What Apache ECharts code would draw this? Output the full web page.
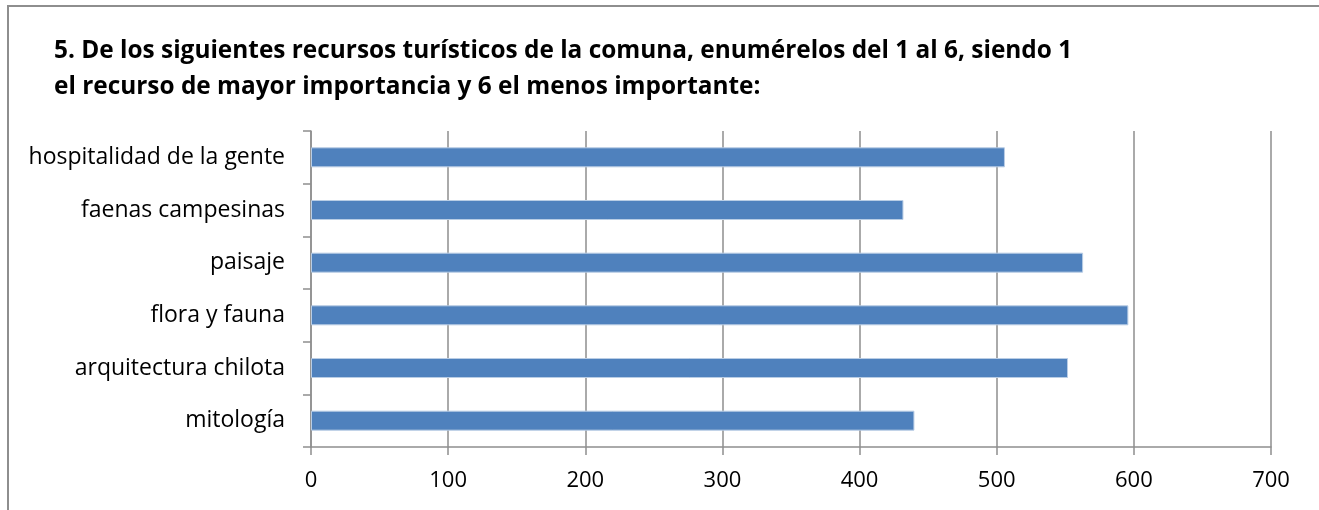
<!DOCTYPE html>
<html>
<head>
<meta charset="utf-8">
<script src="https://cdn.jsdelivr.net/npm/echarts@6/dist/echarts.min.js"></script>
<style>
  html, body { margin: 0; padding: 0; background: #fff; }
  #chart { width: 1319px; height: 510px; }
</style>
</head>
<body>
<div id="chart"></div>
<script>
// recursos turísticos, de arriba hacia abajo
const categories = [
  'hospitalidad de la gente',
  'faenas campesinas',
  'paisaje',
  'flora y fauna',
  'arquitectura chilota',
  'mitología'
]
const values = [506, 432, 563, 596, 552, 440]
const xTicks = [0, 100, 200, 300, 400, 500, 600, 700]

const titleLines = [
  '5. De los siguientes recursos turísticos de la comuna, enumérelos del 1 al 6, siendo 1',
  'el recurso de mayor importancia y 6 el menos importante:'
]

const chart = echarts.init(document.getElementById('chart'), null, { renderer: 'canvas' })

const gray = '#8e8e8e'
const font = '"Open Sans", Lato, sans-serif'

chart.setOption({
  animation: false,
  backgroundColor: '#fff',
  textStyle: { fontFamily: font },
  title: {
    text: titleLines.join('\n'),
    left: 49,
    top: 28,
    textStyle: {
      fontFamily: font,
      fontWeight: 'bold',
      fontSize: 24.4,
      lineHeight: 36,
      color: '#000'
    }
  },
  // marco exterior del gráfico
  graphic: [
    {
      type: 'rect',
      shape: { x: 8, y: 6, width: 1400, height: 600 },
      style: { fill: 'none', stroke: gray, lineWidth: 2 },
      silent: true
    }
  ],
  grid: {
    left: 311,
    right: 48,
    top: 131,
    bottom: 63
  },
  xAxis: {
    type: 'value',
    min: xTicks[0],
    max: xTicks[xTicks.length - 1],
    interval: 100,
    axisLine: { show: true, lineStyle: { color: gray, width: 1.5 } },
    axisTick: { show: true, length: 8, lineStyle: { color: gray, width: 1.5 } },
    splitLine: { show: true, lineStyle: { color: gray, width: 1.5 } },
    axisLabel: {
      margin: 23,
      fontSize: 22,
      color: '#000',
      fontFamily: font
    }
  },
  yAxis: {
    type: 'category',
    inverse: true,
    data: categories,
    axisLine: { show: true, lineStyle: { color: gray, width: 1.5 } },
    axisTick: { show: true, length: 8, lineStyle: { color: gray, width: 1.5 } },
    axisLabel: {
      margin: 26,
      fontSize: 23,
      color: '#000',
      fontFamily: font
    }
  },
  series: [
    {
      type: 'bar',
      data: values,
      barWidth: 20,
      itemStyle: {
        color: '#4f81bd',
        borderColor: '#b9cde5',
        borderWidth: 1
      }
    }
  ]
})
</script>
</body>
</html>
